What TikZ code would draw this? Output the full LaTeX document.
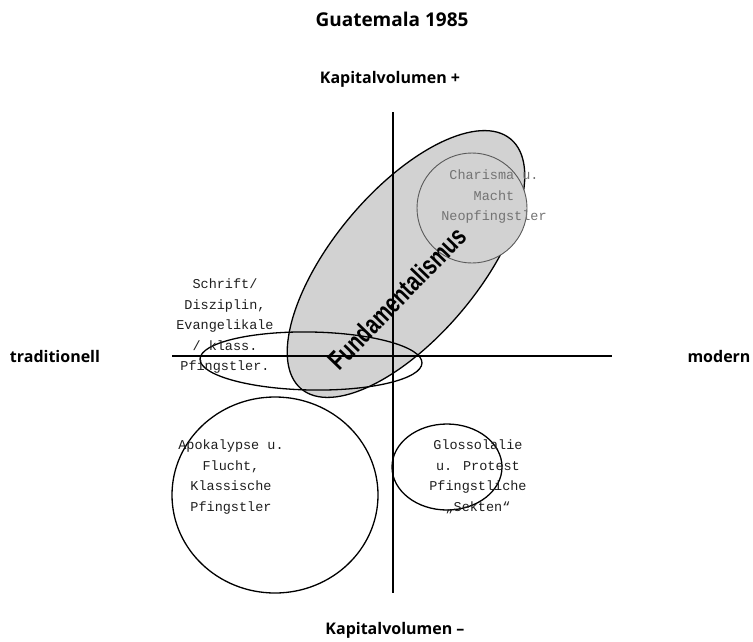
\documentclass[tikz,border=0pt]{standalone}
\usepackage{fontspec}
\usepackage{tikz}
\usetikzlibrary{shapes.geometric}
\newfontfamily\labelfont{Open Sans}
\newfontfamily\typefont{Liberation Mono}
\newfontfamily\fundfont{Liberation Sans}
\definecolor{fundgray}{HTML}{D2D2D2}
\definecolor{typegray}{HTML}{1E1E1E}

\begin{document}
\begin{tikzpicture}[x=1pt,y=-1pt,
  axis/.style={line width=2.6pt},
  blob/.style={ellipse,draw,line width=1.3pt,inner sep=0pt,outer sep=0pt},
  typed/.style={align=center,font=\typefont\fontsize{13.5}{20.5}\selectfont,text=typegray,inner sep=0pt},
  axislabel/.style={font=\labelfont\bfseries\fontsize{16}{18}\selectfont,inner sep=0pt}]
\useasboundingbox (0,0) rectangle (753,641);
% shaded field and the groups
\node[blob, fill=fundgray, minimum width=326pt, minimum height=146pt, rotate=50] (fund) at (406,264) {};
\node[blob, fill=fundgray, draw=black!65, line width=0.9pt, minimum size=110pt] (charisma) at (472,208) {};
\node[blob, minimum width=222pt, minimum height=58pt, rotate=-1] (schrift) at (311,361) {};
\node[blob, minimum width=206pt, minimum height=196pt] (apok) at (275,495) {};
\node[blob, minimum width=110pt, minimum height=86pt] (gloss) at (447,467) {};
% axes
\coordinate (top) at (393,112);
\coordinate (bottom) at (393,593);
\coordinate (left) at (172,356);
\coordinate (right) at (612,356);
\draw[axis] (top) -- (bottom);
\draw[axis] (left) -- (right);
% labels
\node[axislabel, font=\labelfont\bfseries\fontsize{19}{21}\selectfont] (title) at (392,19) {Guatemala 1985};
\node[axislabel] (kplus) at (390,79) {Kapitalvolumen +};
\node[axislabel] (kminus) at (395,630) {Kapitalvolumen –};
\node[axislabel] (trad) at (55,356) {traditionell};
\node[axislabel] (modern) at (719,356) {modern};
\node[typed, text=black!55] (charismatext) at (494,197) {Charisma u.\\Macht\\Neopfingstler};
\node[typed] (schrifttext) at (225,326) {Schrift/\\Disziplin,\\Evangelikale\\/ klass.\\Pfingstler.};
\node[typed] (apoktext) at (231,477) {Apokalypse u.\\Flucht,\\Klassische\\Pfingstler};
\node[typed] (glosstext) at (478,477) {Glossolalie\\u. Protest\\Pfingstliche\\„Sekten“};
\node[font=\fundfont\bfseries\fontsize{27}{29}\selectfont, rotate=46, xscale=0.75, inner sep=0pt] (fundtext) at (397,298) {Fundamentalismus};
\end{tikzpicture}
\end{document}
